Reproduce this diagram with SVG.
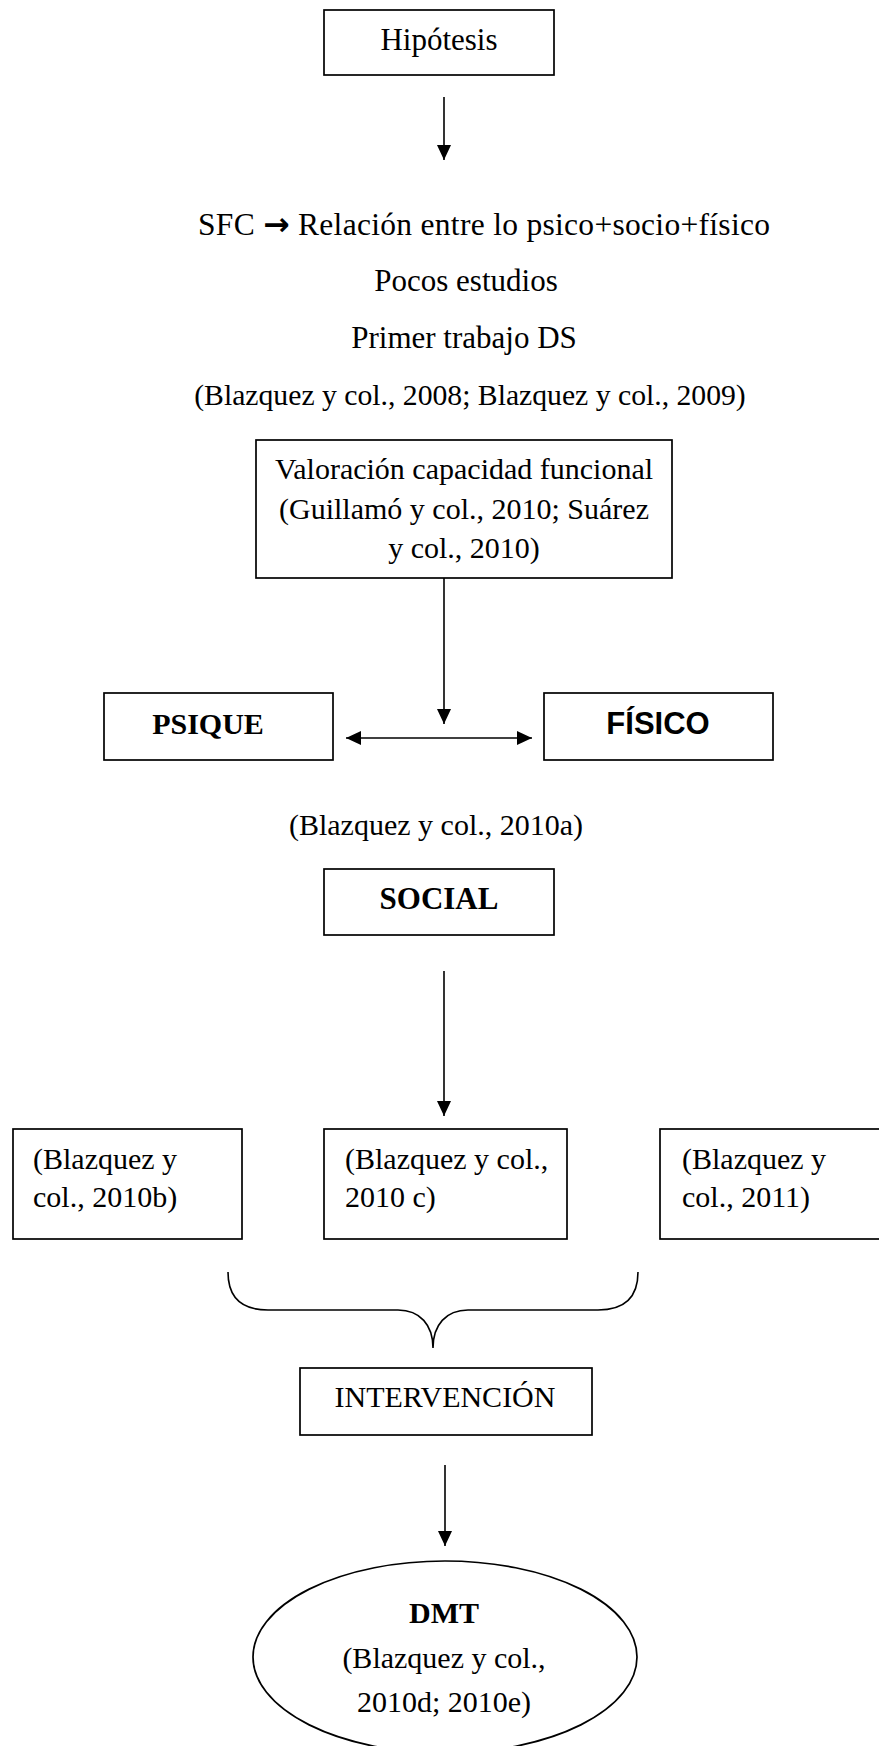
<svg xmlns="http://www.w3.org/2000/svg" width="879" height="1746" viewBox="0 0 879 1746">
<style>
.box{fill:#fff;stroke:#000;stroke-width:1.7}
.t{font-family:"Liberation Serif","Times New Roman",serif;font-size:30px;fill:#000}
.m{text-anchor:middle}
.b{font-weight:bold}
.sans{font-family:"Liberation Sans",Arial,sans-serif;font-weight:bold}
.ln{fill:none;stroke:#000;stroke-width:1.6}
.arr{font-family:"DejaVu Sans",sans-serif;font-weight:bold}
</style>
<defs>
<marker id="ah" viewBox="0 0 15 14" refX="15" refY="7" markerWidth="15" markerHeight="14" markerUnits="userSpaceOnUse" orient="auto-start-reverse">
<path d="M0,0 L15,7 L0,14 z" fill="#000"/>
</marker>
</defs>
<rect width="879" height="1746" fill="#fff"/>
<g id="connectors">
<line class="ln" x1="444" y1="97" x2="444" y2="160" marker-end="url(#ah)"/>
<line class="ln" x1="444" y1="578" x2="444" y2="724" marker-end="url(#ah)"/>
<line class="ln" x1="346" y1="738" x2="532" y2="738" marker-start="url(#ah)" marker-end="url(#ah)"/>
<line class="ln" x1="444" y1="971" x2="444" y2="1116" marker-end="url(#ah)"/>
<path class="ln" d="M228,1272 C228,1296 240,1310 268,1310 L398,1310 C420,1310 433,1325 433,1348 C433,1325 446,1310 468,1310 L598,1310 C626,1310 638,1296 638,1272"/>
<line class="ln" x1="445" y1="1465" x2="445" y2="1546" marker-end="url(#ah)"/>
</g>
<g id="hipotesis">
<rect class="box" x="324" y="10" width="230" height="65"/>
<text class="t m" x="439" y="50" style="font-size:31px">Hipótesis</text>
</g>
<g id="intro-text">
<text class="t" x="198" y="235" style="font-size:31.5px" textLength="572" lengthAdjust="spacing">SFC <tspan class="arr">→</tspan> Relación entre lo psico+socio+físico</text>
<text class="t m" x="466" y="291" style="font-size:31px">Pocos estudios</text>
<text class="t m" x="464" y="348" style="font-size:31px">Primer trabajo DS</text>
<text class="t m" x="470" y="405" style="font-size:29.7px">(Blazquez y col., 2008; Blazquez y col., 2009)</text>
</g>
<g id="valoracion">
<rect class="box" x="256" y="440" width="416" height="138"/>
<text class="t m" x="464" y="479">Valoración capacidad funcional</text>
<text class="t m" x="464" y="519">(Guillamó y col., 2010; Suárez</text>
<text class="t m" x="464" y="558">y col., 2010)</text>
</g>
<g id="psique">
<rect class="box" x="104" y="693" width="229" height="67"/>
<text class="t m b" x="208" y="734">PSIQUE</text>
</g>
<g id="fisico">
<rect class="box" x="544" y="693" width="229" height="67"/>
<text class="t m sans" x="658" y="734" style="font-size:31px">FÍSICO</text>
</g>
<g id="ref-2010a">
<text class="t m" x="436" y="835">(Blazquez y col., 2010a)</text>
</g>
<g id="social">
<rect class="box" x="324" y="869" width="230" height="66"/>
<text class="t m b" x="439" y="909" style="font-size:31px">SOCIAL</text>
</g>
<g id="ref-2010b">
<rect class="box" x="13" y="1129" width="229" height="110"/>
<text class="t" x="33" y="1169">(Blazquez y</text>
<text class="t" x="33" y="1207">col., 2010b)</text>
</g>
<g id="ref-2010c">
<rect class="box" x="324" y="1129" width="243" height="110"/>
<text class="t" x="345" y="1169">(Blazquez y col.,</text>
<text class="t" x="345" y="1207">2010 c)</text>
</g>
<g id="ref-2011">
<rect class="box" x="660" y="1129" width="240" height="110"/>
<text class="t" x="682" y="1169">(Blazquez y</text>
<text class="t" x="682" y="1207">col., 2011)</text>
</g>
<g id="intervencion">
<rect class="box" x="300" y="1368" width="292" height="67"/>
<text class="t m" x="445" y="1407">INTERVENCIÓN</text>
</g>
<g id="dmt">
<ellipse class="box" cx="445" cy="1657" rx="192" ry="96"/>
<text class="t m b" x="444" y="1623">DMT</text>
<text class="t m" x="444" y="1668">(Blazquez y col.,</text>
<text class="t m" x="444" y="1712">2010d; 2010e)</text>
</g>
</svg>
